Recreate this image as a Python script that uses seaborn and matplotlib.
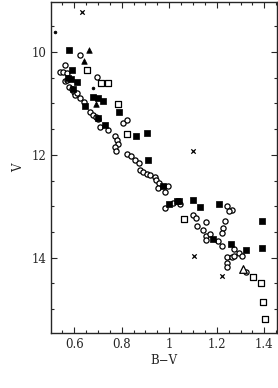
import pandas as pd
import seaborn as sns
import matplotlib.pyplot as plt
from matplotlib.ticker import MultipleLocator, FormatStrFormatter

# open circles
circ_bv = [0.624, 0.561, 0.540, 0.555, 0.570, 0.694, 0.561, 0.570, 0.580, 0.590,
           0.600, 0.603, 0.610, 0.624, 0.640, 0.666, 0.680, 0.690, 0.700, 0.708,
           0.743, 0.806, 0.823, 0.771, 0.779, 0.785, 0.771, 0.774, 0.823, 0.841,
           0.856, 0.872, 0.876, 0.890, 0.905, 0.920, 0.940, 0.945, 0.955, 0.996,
           0.954, 0.982, 0.982, 1.017, 1.045, 1.244, 1.263, 1.253, 1.101, 1.112,
           1.155, 1.235, 1.228, 1.221, 1.115, 1.143, 1.153, 1.171, 1.155, 1.204,
           1.223, 1.272, 1.295, 1.305, 1.244, 1.263, 1.272, 1.244, 1.244, 1.323]
circ_v = [10.06, 10.25, 10.40, 10.40, 10.42, 10.48, 10.56, 10.55, 10.68, 10.72,
          10.77, 10.83, 10.80, 10.89, 10.97, 11.16, 11.22, 11.26, 11.30, 11.45,
          11.51, 11.38, 11.33, 11.63, 11.71, 11.79, 11.84, 11.92, 11.99, 12.03,
          12.11, 12.15, 12.29, 12.33, 12.38, 12.40, 12.43, 12.48, 12.55, 12.60,
          12.65, 12.73, 13.04, 12.93, 12.95, 12.99, 13.07, 13.10, 13.16, 13.23,
          13.31, 13.28, 13.42, 13.52, 13.38, 13.46, 13.57, 13.53, 13.65, 13.68,
          13.78, 13.83, 13.90, 13.96, 13.99, 13.99, 13.97, 14.10, 14.18, 14.28]

# open squares
osq_bv = [0.655, 0.712, 0.743, 0.785, 0.823, 1.063, 1.354, 1.385, 1.393, 1.401]
osq_v = [10.35, 10.60, 10.60, 11.02, 11.60, 13.25, 14.37, 14.49, 14.85, 15.19]

# filled squares
fsq_bv = [0.579, 0.592, 0.575, 0.585, 0.613, 0.595, 0.680, 0.701, 0.720, 0.645,
          0.789, 0.700, 0.730, 0.860, 0.905, 0.909, 0.972, 1.101, 1.208, 1.000,
          1.034, 1.042, 1.129, 1.392, 1.183, 1.258, 1.323, 1.392]
fsq_v = [9.97, 10.35, 10.50, 10.52, 10.59, 10.72, 10.87, 10.89, 10.96, 11.05,
         11.17, 11.29, 11.42, 11.63, 11.58, 12.10, 12.60, 12.87, 12.95, 12.95,
         12.89, 12.89, 13.02, 13.29, 13.64, 13.73, 13.85, 13.81]

# filled triangles
ftri_bv = [0.662, 0.641, 0.691]
ftri_v = [9.96, 10.17, 11.01]

# open triangle
otri_bv = [1.312]
otri_v = [14.21]

# crosses
x_bv = [0.634, 1.100, 1.104, 1.222]
x_v = [9.23, 11.92, 13.96, 14.35]

# small dots
dot_bv = [0.519, 0.680]
dot_v = [9.61, 10.71]


def main():
    sns.set_style('ticks')
    plt.rcParams['font.family'] = ['DejaVu Serif']
    plt.rcParams['xtick.direction'] = 'in'
    plt.rcParams['ytick.direction'] = 'in'

    fig = plt.figure(figsize=(2.78, 3.88), dpi=100)
    ax = fig.add_axes([0.183, 0.142, 0.813, 0.853])

    groups = [
        (circ_bv, circ_v, 'o', 'white', 14, 0.9),
        (osq_bv, osq_v, 's', 'white', 13, 0.9),
        (fsq_bv, fsq_v, 's', 'black', 16, 0.5),
        (ftri_bv, ftri_v, '^', 'black', 16, 0.5),
        (otri_bv, otri_v, '^', 'white', 30, 0.9),
        (x_bv, x_v, 'x', 'black', 10, 0.9),
        (dot_bv, dot_v, 'o', 'black', 4, 0.5),
    ]
    for bv, v, m, fc, s, lw in groups:
        df = pd.DataFrame({'bv': bv, 'v': v})
        if m == 'x':
            sns.scatterplot(data=df, x='bv', y='v', marker=m, s=s,
                            color='black', linewidth=lw, ax=ax)
        else:
            sns.scatterplot(data=df, x='bv', y='v', marker=m, s=s,
                            facecolor=fc, edgecolor='black', linewidth=lw, ax=ax)

    ax.set_xlim(0.502, 1.453)
    ax.set_ylim(15.46, 9.03)
    ax.xaxis.set_major_locator(MultipleLocator(0.2))
    ax.xaxis.set_minor_locator(MultipleLocator(0.05))
    ax.yaxis.set_major_locator(MultipleLocator(2))
    ax.yaxis.set_minor_locator(MultipleLocator(0.5))
    ax.xaxis.set_major_formatter(FormatStrFormatter('%g'))
    ax.tick_params(which='both', top=True, right=True, labelsize=8.5,
                   width=0.8)
    ax.tick_params(which='major', length=4)
    ax.tick_params(which='minor', length=2)
    for sp in ax.spines.values():
        sp.set_linewidth(1.0)
    ax.set_xlabel('B\u2212V', fontsize=8.5, labelpad=2)
    ax.set_ylabel('V', fontsize=8.5, labelpad=4)

    fig.savefig('out.png', dpi=100)


if __name__ == '__main__':
    main()
